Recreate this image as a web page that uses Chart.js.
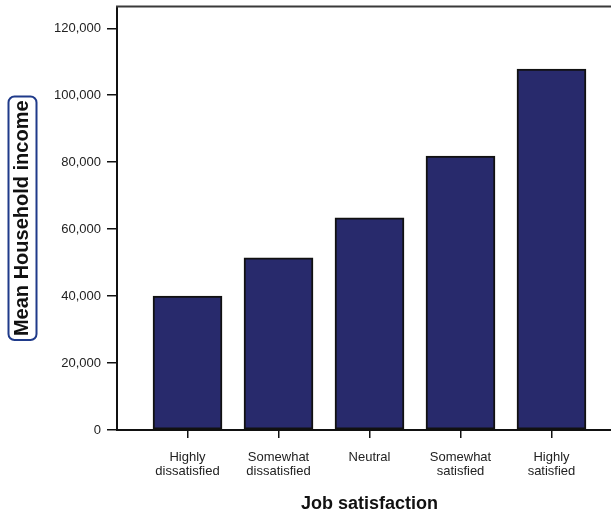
<!DOCTYPE html>
<html>
<head>
<meta charset="utf-8">
<script src="https://cdn.jsdelivr.net/npm/chart.js@4/dist/chart.umd.min.js"></script>
<style>
  html, body { margin: 0; padding: 0; background: #ffffff; overflow: hidden; }
  #wrap { width: 622px; height: 514px; }
</style>
</head>
<body>
<div id="wrap"><canvas id="c" width="622" height="514"></canvas></div>
<script>
const categories = ["Highly dissatisfied", "Somewhat dissatisfied", "Neutral", "Somewhat satisfied", "Highly satisfied"];
const categoryLines = [["Highly", "dissatisfied"], ["Somewhat", "dissatisfied"], ["Neutral"], ["Somewhat", "satisfied"], ["Highly", "satisfied"]];
const meanIncome = [40000, 51400, 63400, 81800, 107800];
const yTicks = [0, 20000, 40000, 60000, 80000, 100000, 120000];
const xTitle = "Job satisfaction";
const yTitle = "Mean Household income";

const FONT = "'Liberation Sans', Arial, sans-serif";

const boxPlugin = {
  id: 'boxes',
  afterDraw(chart) {
    const ctx = chart.ctx;
    const a = chart.chartArea;
    ctx.save();
    // top frame line
    ctx.strokeStyle = '#3a3a3a';
    ctx.lineWidth = 2;
    ctx.beginPath();
    ctx.moveTo(a.left - 1, a.top);
    ctx.lineTo(chart.width, a.top);
    ctx.stroke();
    // rounded box around y title
    const ys = chart.scales.y;
    ctx.font = "bold 20px " + FONT;
    const w = ctx.measureText(yTitle).width;
    const cy = (ys.top + ys.bottom) / 2;
    const cx = 22.5;
    const bw = 28, bh = w + 8;
    ctx.strokeStyle = '#1f3a8a';
    ctx.lineWidth = 2;
    ctx.beginPath();
    ctx.roundRect(cx - bw / 2, cy - bh / 2, bw, bh, 6);
    ctx.stroke();
    ctx.restore();
  }
};

new Chart(document.getElementById('c'), {
  type: 'bar',
  data: {
    datasets: [{
      data: meanIncome.map((v, i) => ({ x: i, y: v })),
      backgroundColor: '#282a6c',
      borderColor: '#111111',
      borderWidth: 2,
      borderSkipped: false,
      barThickness: 69
    }]
  },
  options: {
    responsive: false,
    animation: false,
    locale: 'en-US',
    layout: { padding: { top: 6.5, right: 0, left: 0, bottom: 0 } },
    plugins: { legend: { display: false }, tooltip: { enabled: false } },
    scales: {
      x: {
        type: 'linear',
        min: -0.775,
        max: 4.775,
        offset: false,
        afterBuildTicks: (s) => { s.ticks = categories.map((c, i) => ({ value: i })); },
        afterFit: (s) => { s.height = 84; s.paddingLeft = 0; s.paddingRight = 0; },
        ticks: {
          autoSkip: false,
          maxRotation: 0,
          padding: 12,
          color: '#222',
          font: { family: FONT, size: 13, lineHeight: 1.08 },
          callback: (v) => categoryLines[v]
        },
        grid: { drawOnChartArea: false, offset: false, tickLength: 8, color: '#111', lineWidth: 1.5 },
        border: { display: true, color: '#111', width: 2 },
        title: {
          display: true,
          text: xTitle,
          color: '#111',
          font: { family: FONT, size: 18, weight: 'bold', lineHeight: 1.1 },
          padding: 0
        }
      },
      y: {
        min: 0,
        max: 126500,
        afterBuildTicks: (s) => { s.ticks = yTicks.map(v => ({ value: v })); },
        afterFit: (s) => { s.width = 117; s.paddingTop = 0; s.paddingBottom = 0; },
        ticks: {
          includeBounds: false,
          padding: 6,
          color: '#222',
          font: { family: FONT, size: 13 }
        },
        grid: { drawOnChartArea: false, tickLength: 10, color: '#111', lineWidth: 1.5 },
        border: { display: true, color: '#111', width: 2 },
        title: {
          display: true,
          text: yTitle,
          color: '#111',
          font: { family: FONT, size: 20, weight: 'bold', lineHeight: 1 },
          padding: { top: 12.5, bottom: 0 }
        }
      }
    }
  },
  plugins: [boxPlugin]
});
</script>
</body>
</html>
